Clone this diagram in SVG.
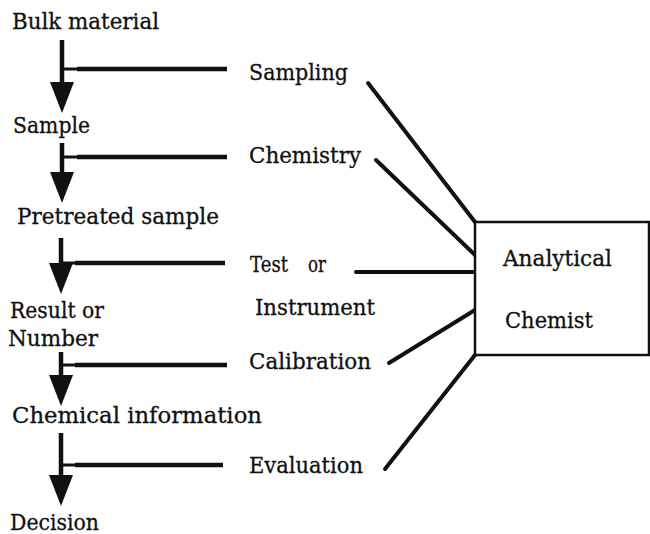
<svg xmlns="http://www.w3.org/2000/svg" width="650" height="534" viewBox="0 0 650 534">
<style>
text{font-family:"DejaVu Serif","Liberation Serif",serif;font-size:22px;fill:#111;stroke:#111;stroke-width:0.3}
.shaft{stroke:#111;stroke-width:4.5;fill:none}
.stub{stroke:#111;stroke-width:3;fill:none}
.branch{stroke:#111;stroke-width:4.5;fill:none}
.ray{stroke:#111;stroke-width:4;fill:none;stroke-linecap:round}
.head{fill:#111}
.box{fill:#fff;stroke:#111;stroke-width:2.5}
</style>
<defs>
<polygon id="ah" class="head" points="-12,0 12,0 0,31"/>
</defs>
<rect width="650" height="534" fill="#fff"/>
<g id="connectors">
<line class="shaft" x1="62" y1="40" x2="62" y2="84"/>
<use href="#ah" x="62" y="82"/>
<line class="stub" x1="62" y1="69" x2="78" y2="69"/>
<line class="branch" x1="77" y1="69" x2="227" y2="69"/>

<line class="shaft" x1="62" y1="143" x2="62" y2="174"/>
<use href="#ah" x="62" y="172"/>
<line class="stub" x1="62" y1="157" x2="78" y2="157"/>
<line class="branch" x1="77" y1="157" x2="227" y2="157"/>

<line class="shaft" x1="61" y1="238" x2="61" y2="264"/>
<use href="#ah" x="61" y="263"/>
<line class="stub" x1="61" y1="263" x2="76" y2="263"/>
<line class="branch" x1="75" y1="263" x2="225" y2="263"/>

<line class="shaft" x1="61" y1="352" x2="61" y2="377"/>
<use href="#ah" x="61" y="375"/>
<line class="stub" x1="61" y1="365" x2="76" y2="365"/>
<line class="branch" x1="75" y1="365" x2="227" y2="365"/>

<line class="shaft" x1="61" y1="433" x2="61" y2="477"/>
<use href="#ah" x="61" y="475"/>
<line class="stub" x1="61" y1="465" x2="76" y2="465"/>
<line class="branch" x1="75" y1="465" x2="223" y2="465"/>

<line class="ray" x1="368" y1="83" x2="475" y2="222"/>
<line class="ray" x1="376" y1="160" x2="475" y2="255"/>
<line class="ray" x1="356" y1="272" x2="475" y2="272"/>
<line class="ray" x1="389" y1="363" x2="475" y2="310"/>
<line class="ray" x1="385" y1="469" x2="475" y2="355"/>
</g>
<g id="bulk"><text x="12" y="29" textLength="147" lengthAdjust="spacingAndGlyphs">Bulk material</text></g>
<g id="sample"><text x="13" y="133" textLength="77" lengthAdjust="spacingAndGlyphs">Sample</text></g>
<g id="pretreated"><text x="17" y="224" textLength="202" lengthAdjust="spacingAndGlyphs">Pretreated sample</text></g>
<g id="result"><text x="10" y="318" textLength="94" lengthAdjust="spacingAndGlyphs">Result or</text><text x="8" y="346" textLength="90" lengthAdjust="spacingAndGlyphs">Number</text></g>
<g id="chemical-information"><text x="12" y="423" textLength="250" lengthAdjust="spacingAndGlyphs">Chemical information</text></g>
<g id="decision"><text x="10" y="530" textLength="89" lengthAdjust="spacingAndGlyphs">Decision</text></g>
<g id="sampling"><text x="249" y="80" textLength="99" lengthAdjust="spacingAndGlyphs">Sampling</text></g>
<g id="chemistry"><text x="249" y="163" textLength="112" lengthAdjust="spacingAndGlyphs">Chemistry</text></g>
<g id="test"><text x="250" y="272" textLength="38" lengthAdjust="spacingAndGlyphs">Test</text><text x="308" y="272" textLength="18" lengthAdjust="spacingAndGlyphs">or</text><text x="255" y="315" textLength="120" lengthAdjust="spacingAndGlyphs">Instrument</text></g>
<g id="calibration"><text x="249" y="369" textLength="122" lengthAdjust="spacingAndGlyphs">Calibration</text></g>
<g id="evaluation"><text x="249" y="473" textLength="114" lengthAdjust="spacingAndGlyphs">Evaluation</text></g>
<g id="analytical-chemist">
<rect class="box" x="475" y="222" width="174" height="133"/>
<text x="503" y="266" textLength="109" lengthAdjust="spacingAndGlyphs">Analytical</text>
<text x="505" y="328" textLength="88" lengthAdjust="spacingAndGlyphs">Chemist</text>
</g>
</svg>
